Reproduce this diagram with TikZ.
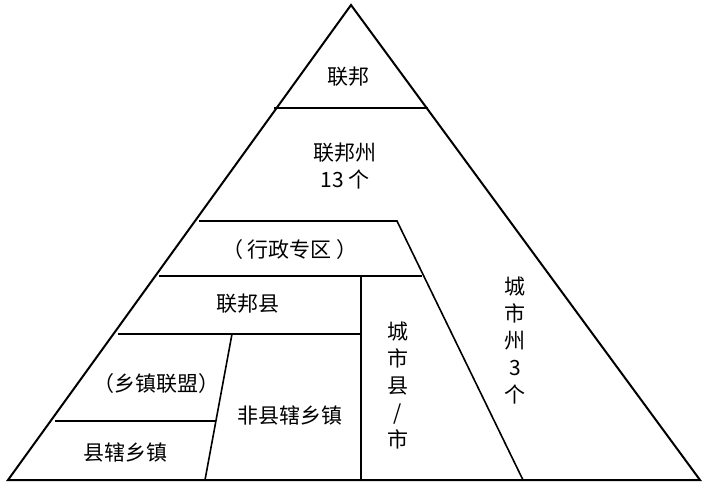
\documentclass[tikz,border=0pt]{standalone}
\usepackage{fontspec}
\setmainfont{Noto Sans CJK SC}
\begin{document}
\begin{tikzpicture}[x=1pt,y=-1pt,line width=1.6pt,
  lab/.style={font=\fontsize{21}{27}\selectfont,align=center,inner sep=0pt}]
\useasboundingbox (0,0) rectangle (705,485);
\coordinate (A) at (351,5);
\coordinate (L) at (8,480);
\coordinate (R) at (700,480);
\draw[line width=2pt,line join=miter] (L) -- (A) -- (R) -- cycle;
\draw (274,108) -- (428,108);
\draw (199,221) -- (397,221) -- (523,480);
\draw (159,276) -- (422,276);
\draw (118,334) -- (361,334);
\draw (361,276) -- (361,480);
\draw (232,334) -- (205,480);
\draw (55,421) -- (216,421);
\node[lab] (n1) at (348,77) {联邦};
\node[lab] (n2) at (345,166) {联邦州\\13 个};
\node[lab] (n3) at (290,250) {（ 行政专区 ）};
\node[lab] (n4) at (248,304) {联邦县};
\node[lab] (n5) at (156,384) {（乡镇联盟）};
\node[lab] (n6) at (125,452) {县辖乡镇};
\node[lab] (n7) at (290,415) {非县辖乡镇};
\node[lab] (n8) at (398,385) {城\\市\\县\\/\\市};
\node[lab] (n9) at (515,340) {城\\市\\州\\3\\个};
\end{tikzpicture}
\end{document}
